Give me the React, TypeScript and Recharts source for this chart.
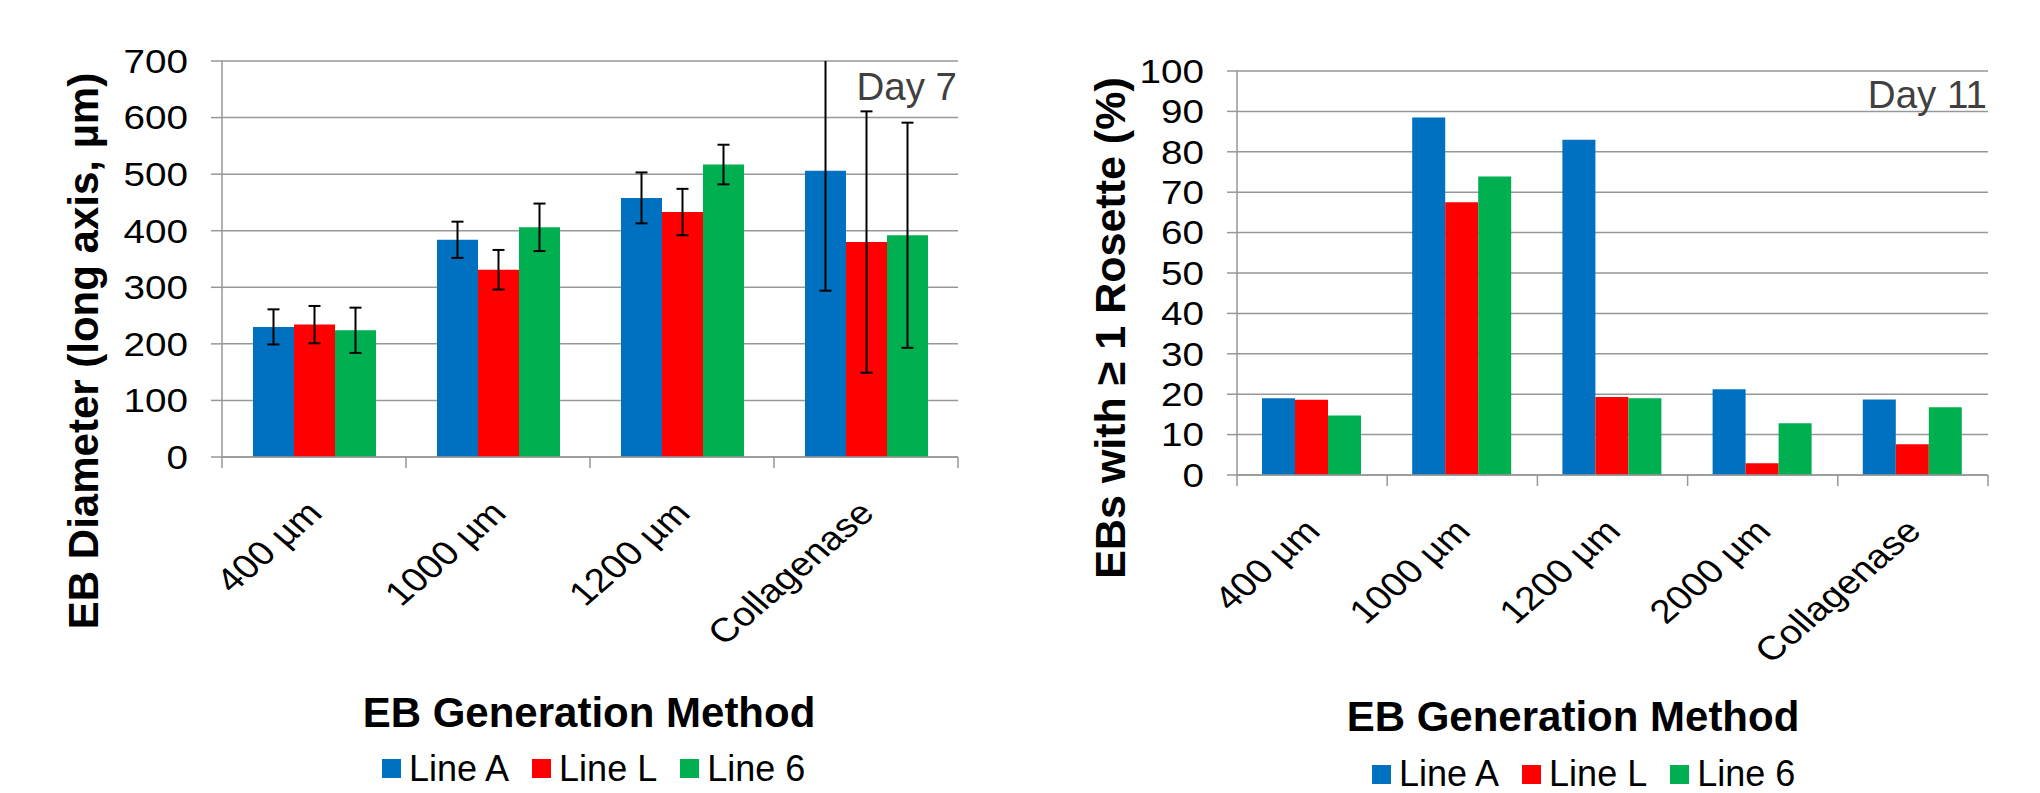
import React from 'react';
import { BarChart, Bar, XAxis, YAxis, CartesianGrid, ErrorBar, Legend } from 'recharts';

const FONT = '"Liberation Sans", Arial, Helvetica, sans-serif';
const GRID = '#979797';
const COLORS = ['#0070C0', '#FF0000', '#00B050'];
const seriesNames = ['Line A', 'Line L', 'Line 6'];

// Day 7 – EB diameter
const day7Categories = ['400 µm', '1000 µm', '1200 µm', 'Collagenase'];
const day7LineA = [230, 384, 458, 506];
const day7LineL = [234, 331, 433, 380];
const day7Line6 = [224, 406, 517, 392];
const day7ErrA = [31, 32, 45, 212];
const day7ErrL = [33, 35, 41, 231];
const day7Err6 = [40, 42, 35, 199];
const day7Ticks = [0, 100, 200, 300, 400, 500, 600, 700];

// Day 11 – rosettes
const day11Categories = ['400 µm', '1000 µm', '1200 µm', '2000 µm', 'Collagenase'];
const day11LineA = [19.0, 88.5, 83.0, 21.2, 18.7];
const day11LineL = [18.6, 67.5, 19.3, 2.9, 7.6];
const day11Line6 = [14.7, 73.9, 19.0, 12.8, 16.8];
const day11Ticks = [0, 10, 20, 30, 40, 50, 60, 70, 80, 90, 100];

const day7Data = day7Categories.map((c, i) => ({
  cat: c,
  a: day7LineA[i],
  l: day7LineL[i],
  s: day7Line6[i],
  ea: day7ErrA[i],
  el: day7ErrL[i],
  es: day7Err6[i],
}));

const day11Data = day11Categories.map((c, i) => ({
  cat: c,
  a: day11LineA[i],
  l: day11LineL[i],
  s: day11Line6[i],
}));

const STRETCH = 1.154;
const TICK_FONT = 33.5;

const YTick = (props: any) => {
  const { x, y, payload } = props;
  return (
    <text
      transform={`translate(${x},${y}) scale(${STRETCH},1)`}
      textAnchor="end"
      dy="0.355em"
      fontSize={TICK_FONT}
      fontFamily={FONT}
      fill="#000"
    >
      {payload.value}
    </text>
  );
};

const makeXTick = (band: number, cats: string[]) => (props: any) => {
  const { x, y, payload } = props;
  const isLast = payload.value === cats[cats.length - 1];
  const lx = x - band / 2;
  return (
    <g>
      <line x1={lx} y1={y} x2={lx} y2={y + 11} stroke={GRID} strokeWidth={1.5} />
      {isLast && <line x1={x + band / 2} y1={y} x2={x + band / 2} y2={y + 11} stroke={GRID} strokeWidth={1.5} />}
      <text
        transform={`translate(${x + 10},${y + 58}) scale(${STRETCH},1) rotate(-45)`}
        textAnchor="end"
        fontSize={TICK_FONT}
        fontFamily={FONT}
        fill="#000"
      >
        {payload.value}
      </text>
    </g>
  );
};

const renderLegend = () => (
  <div style={{ display: 'flex', alignItems: 'center', fontFamily: FONT, fontSize: 36, lineHeight: '30px', whiteSpace: 'nowrap', color: '#000' }}>
    {seriesNames.map((name, i) => (
      <div key={name} style={{ display: 'flex', alignItems: 'center', marginRight: 23 }}>
        <span style={{ width: 19, height: 19, background: COLORS[i], display: 'inline-block', marginRight: 8 }} />
        <span>{name}</span>
      </div>
    ))}
  </div>
);

// layout constants
const C1 = { w: 1000, h: 793, yw: 222, m: { top: 61, right: 42, bottom: 200, left: 0 }, xh: 136 };
const C2 = { w: 1020, h: 793, yw: 217, m: { top: 71, right: 52, bottom: 182, left: 0 }, xh: 136 };
const band1 = (C1.w - C1.yw - C1.m.left - C1.m.right) / day7Categories.length;
const band2 = (C2.w - C2.yw - C2.m.left - C2.m.right) / day11Categories.length;

export default function App() {
  const keys = ['a', 'l', 's'];
  const errKeys = ['ea', 'el', 'es'];
  return (
    <div style={{ position: 'absolute', left: 0, top: 0, width: 2040, height: 793, background: '#fff', overflow: 'hidden' }}>
      <svg width={0} height={0} style={{ position: 'absolute', left: 0, top: 0 }}>
        <defs>
          <clipPath id="day7PlotClip" clipPathUnits="userSpaceOnUse">
            <rect x={0} y={C1.m.top} width={C1.w} height={C1.h - C1.m.top} />
          </clipPath>
        </defs>
      </svg>
      <div style={{ position: 'absolute', left: 0, top: 0 }}>
        <BarChart width={C1.w} height={C1.h} data={day7Data} margin={C1.m} barGap={0} barCategoryGap={31} style={{ fontFamily: FONT }}>
          <CartesianGrid vertical={false} stroke={GRID} strokeWidth={1.5} />
          <XAxis
            dataKey="cat"
            height={C1.xh}
            interval={0}
            tickLine={false}
            tickSize={0}
            tickMargin={0}
            axisLine={{ stroke: GRID, strokeWidth: 1.5 }}
            tick={makeXTick(band1, day7Categories)}
          />
          <YAxis
            width={C1.yw}
            domain={[0, 700]}
            ticks={day7Ticks}
            allowDataOverflow
            interval={0}
            tickSize={11}
            tickMargin={23}
            axisLine={{ stroke: GRID, strokeWidth: 1.5 }}
            tickLine={{ stroke: GRID, strokeWidth: 1.5 }}
            tick={YTick}
          />
          {keys.map((k, i) => (
            <Bar key={k} dataKey={k} name={seriesNames[i]} fill={COLORS[i]} isAnimationActive={false}>
              <ErrorBar
                dataKey={errKeys[i]}
                width={6}
                strokeWidth={2}
                stroke="#000"
                direction="y"
                clipPath="url(#day7PlotClip)"
              />
            </Bar>
          ))}
          <Legend
            layout="horizontal"
            verticalAlign="middle"
            align="center"
            content={renderLegend}
            wrapperStyle={{ left: 382, top: 753.5, width: 560, height: 30 }}
          />
        </BarChart>
      </div>
      <div style={{ position: 'absolute', left: 1020, top: 0 }}>
        <BarChart width={C2.w} height={C2.h} data={day11Data} margin={C2.m} barGap={0} barCategoryGap={25} style={{ fontFamily: FONT }}>
          <CartesianGrid vertical={false} stroke={GRID} strokeWidth={1.5} />
          <XAxis
            dataKey="cat"
            height={C2.xh}
            interval={0}
            tickLine={false}
            tickSize={0}
            tickMargin={0}
            axisLine={{ stroke: GRID, strokeWidth: 1.5 }}
            tick={makeXTick(band2, day11Categories)}
          />
          <YAxis
            width={C2.yw}
            domain={[0, 100]}
            ticks={day11Ticks}
            allowDataOverflow
            interval={0}
            tickSize={10}
            tickMargin={23}
            axisLine={{ stroke: GRID, strokeWidth: 1.5 }}
            tickLine={{ stroke: GRID, strokeWidth: 1.5 }}
            tick={YTick}
          />
          {keys.map((k, i) => (
            <Bar key={k} dataKey={k} name={seriesNames[i]} fill={COLORS[i]} isAnimationActive={false} />
          ))}
          <Legend
            layout="horizontal"
            verticalAlign="middle"
            align="center"
            content={renderLegend}
            wrapperStyle={{ left: 352, top: 759, width: 560, height: 30 }}
          />
        </BarChart>
      </div>
      <svg width={2040} height={793} style={{ position: 'absolute', left: 0, top: 0, pointerEvents: 'none' }}>
        <g fontFamily={FONT}>
          <text transform="translate(98,351) rotate(-90)" textAnchor="middle" fontSize={42} fontWeight="bold" fill="#000">
            EB Diameter (long axis, µm)
          </text>
          <text x={589} y={727} textAnchor="middle" fontSize={42} fontWeight="bold" fill="#000">
            EB Generation Method
          </text>
          <text x={957} y={100} textAnchor="end" fontSize={38.5} fill="#404040">
            Day 7
          </text>
          <text transform="translate(1125,328) rotate(-90)" textAnchor="middle" fontSize={43} fontWeight="bold" fill="#000">
            EBs with ≥ 1 Rosette (%)
          </text>
          <text x={1573} y={731} textAnchor="middle" fontSize={42} fontWeight="bold" fill="#000">
            EB Generation Method
          </text>
          <text x={1987} y={108} textAnchor="end" fontSize={38.5} fill="#404040">
            Day 11
          </text>
        </g>
      </svg>
    </div>
  );
}
